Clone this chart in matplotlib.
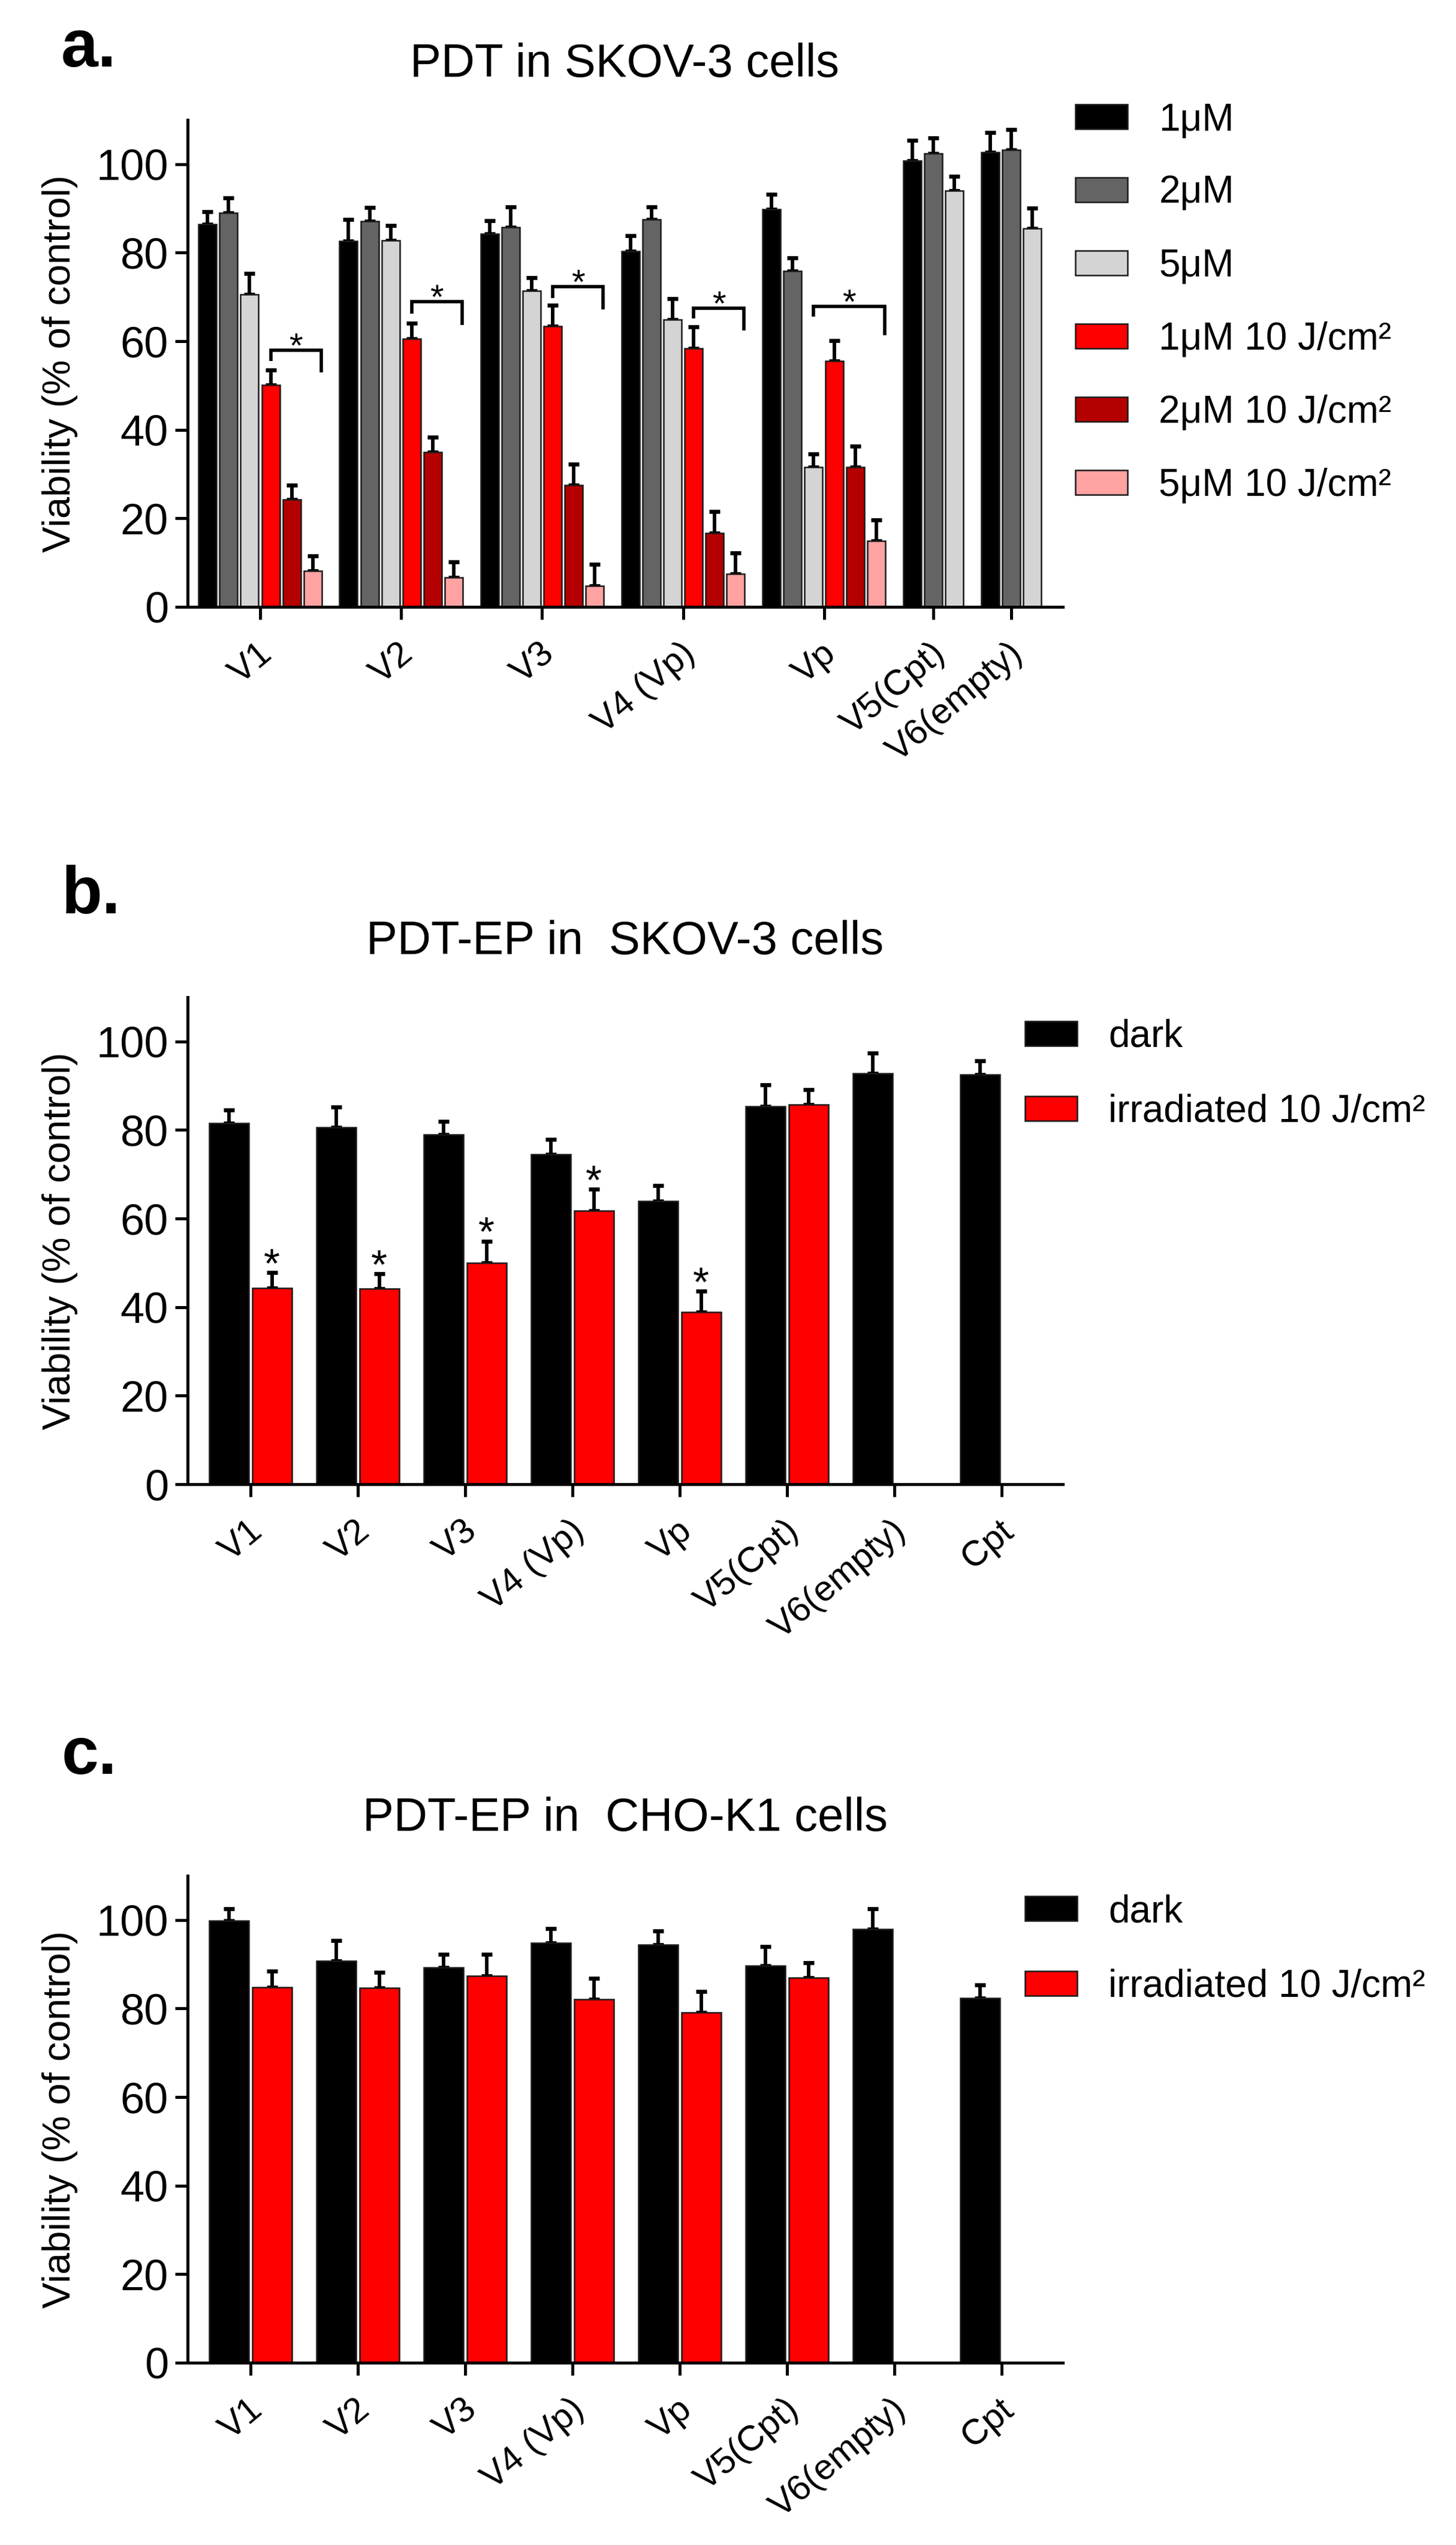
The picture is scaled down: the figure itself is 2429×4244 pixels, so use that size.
import numpy as np
import matplotlib
matplotlib.use('Agg')
import matplotlib.pyplot as plt
from matplotlib.patches import Patch
from matplotlib.transforms import ScaledTranslation

plt.rcParams['font.family'] = ['Liberation Sans', 'DejaVu Sans']

W, H = 2429, 4244

# ---------------- data ----------------
# panel a: PDT in SKOV-3
cats_a = ['V1', 'V2', 'V3', 'V4 (Vp)', 'Vp', 'V5(Cpt)', 'V6(empty)']
labels_a = ['1\u03bcM', '2\u03bcM', '5\u03bcM',
            '1\u03bcM 10 J/cm\u00b2', '2\u03bcM 10 J/cm\u00b2', '5\u03bcM 10 J/cm\u00b2']
um1 = [86.4, 82.7, 84.2, 80.4, 89.8, 100.8, 102.7]
um1_err = [2.9, 4.8, 3.1, 3.5, 3.4, 4.6, 4.4]
um2 = [89.0, 87.1, 85.7, 87.5, 75.9, 102.4, 103.2]
um2_err = [3.4, 3.1, 4.7, 2.8, 3.0, 3.5, 4.6]
um5 = [70.6, 82.8, 71.4, 64.9, 31.5, 94.0, 85.5]
um5_err = [4.7, 3.4, 3.0, 4.7, 3.1, 3.3, 4.6]
um1_irr = [50.1, 60.6, 63.4, 58.4, 55.5, np.nan, np.nan]
um1_irr_err = [3.4, 3.5, 4.8, 4.8, 4.7, np.nan, np.nan]
um2_irr = [24.2, 34.9, 27.5, 16.7, 31.5, np.nan, np.nan]
um2_irr_err = [3.3, 3.4, 4.8, 4.8, 4.8, np.nan, np.nan]
um5_irr = [8.1, 6.7, 4.8, 7.4, 14.9, np.nan, np.nan]
um5_irr_err = [3.4, 3.5, 4.8, 4.8, 4.8, np.nan, np.nan]

# significance brackets in panel a (group, first series, top, left end, right end)
sig_groups = [0, 1, 2, 3, 4]
sig_from = [3, 3, 3, 3, 2]
sig_top = [58.0, 68.9, 72.3, 67.5, 67.9]
sig_left = [55.6, 66.3, 69.8, 65.2, 65.6]
sig_right = [53.0, 63.7, 67.2, 62.5, 61.4]

# panel b: PDT-EP in SKOV-3
cats_bc = ['V1', 'V2', 'V3', 'V4 (Vp)', 'Vp', 'V5(Cpt)', 'V6(empty)', 'Cpt']
labels_bc = ['dark', 'irradiated 10 J/cm\u00b2']
dark_b = [81.5, 80.6, 79.0, 74.5, 64.0, 85.4, 92.8, 92.5]
dark_b_err = [3.0, 4.6, 3.0, 3.4, 3.4, 4.8, 4.6, 3.1]
irr_b = [44.3, 44.1, 50.0, 61.8, 38.9, 85.8, np.nan, np.nan]
irr_b_err = [3.5, 3.4, 4.9, 4.8, 4.7, 3.3, np.nan, np.nan]
star_b = [True, True, True, True, True, False, False, False]

# panel c: PDT-EP in CHO-K1
dark_c = [99.9, 90.8, 89.3, 94.8, 94.4, 89.7, 98.0, 82.3]
dark_c_err = [2.7, 4.6, 3.0, 3.3, 3.2, 4.3, 4.6, 3.0]
irr_c = [84.8, 84.6, 87.4, 82.1, 79.1, 87.0, np.nan, np.nan]
irr_c_err = [3.6, 3.6, 4.9, 4.7, 4.7, 3.4, np.nan, np.nan]

colors_a = ['#000000', '#646464', '#d4d4d4', '#ff0000', '#b40000', '#ffa2a2']
colors_bc = ['#000000', '#ff0000']
EDGE = '#1a1a1a'


def fx(px):
    return px / W


def fy(py):
    return 1 - py / H


def style_axes(ax, xticks, xlabels):
    for s in ['top', 'right']:
        ax.spines[s].set_visible(False)
    for s in ['left', 'bottom']:
        ax.spines[s].set_linewidth(3.6)
    ax.set_ylim(0, 110)
    ax.set_yticks([0, 20, 40, 60, 80, 100])
    ax.tick_params(axis='y', length=15, width=3.6, labelsize=52, pad=8)
    ax.tick_params(axis='x', length=15, width=3.6, labelsize=43, pad=21)
    ax.set_xticks(xticks)
    ax.set_xticklabels(xlabels, rotation=40, ha='right', rotation_mode='anchor')
    shift = ScaledTranslation(-5 / 100, 0, fig.dpi_scale_trans)
    for lab in ax.get_xticklabels():
        lab.set_transform(lab.get_transform() + shift)
    ax.set_ylabel('Viability (% of control)', fontsize=47)
    ax.yaxis.set_label_coords(-0.125, 0.5)


def draw_bars(ax, x, vals, errs, color, width):
    x = np.asarray(x, float)
    vals = np.asarray(vals, float)
    errs = np.asarray(errs, float)
    ok = ~np.isnan(vals)
    ax.bar(x[ok], vals[ok], width=width, color=color, edgecolor=EDGE,
           linewidth=1.8, zorder=2)
    ax.errorbar(x[ok], vals[ok], yerr=[np.zeros(ok.sum()), errs[ok]], fmt='none',
                ecolor='black', elinewidth=4.2, capsize=6.5, capthick=4.8, zorder=1)


def add_legend(ax, colors, labels, x_px, top_px, spacing):
    handles = [Patch(facecolor=c, edgecolor=EDGE, linewidth=1.8, label=l)
               for c, l in zip(colors, labels)]
    ax.legend(handles=handles, loc='upper left', bbox_to_anchor=(fx(x_px), fy(top_px)),
              bbox_transform=fig.transFigure, frameon=False, borderpad=0,
              borderaxespad=0, handlelength=1.36, handleheight=0.62,
              handletextpad=0.82, labelspacing=spacing, fontsize=46)


fig = plt.figure(figsize=(W / 100, H / 100), dpi=100)

ax_left, ax_right = 313, 1773
ax_w = ax_right - ax_left
ax_h = 812

# ---------------- panel a ----------------
ax = fig.add_axes([fx(ax_left), fy(1012), fx(ax_w), ax_h / H])
series_a = [(um1, um1_err), (um2, um2_err), (um5, um5_err),
            (um1_irr, um1_irr_err), (um2_irr, um2_irr_err), (um5_irr, um5_irr_err)]
nbars = [int(sum(~np.isnan(np.array([s[0][g] for s in series_a], float))))
         for g in range(len(cats_a))]
gap = 0.7
centers_a = [0.0]
for g in range(1, len(cats_a)):
    centers_a.append(centers_a[-1] + (nbars[g - 1] + nbars[g]) / 2 + gap)
centers_a = np.array(centers_a)


def xpos_a(s, g):
    return centers_a[g] + s - (nbars[g] - 1) / 2


for s, (vals, errs) in enumerate(series_a):
    xs = [xpos_a(s, g) for g in range(len(cats_a))]
    draw_bars(ax, xs, vals, errs, colors_a[s], 0.855)

for g, s0, top, le, re in zip(sig_groups, sig_from, sig_top, sig_left, sig_right):
    xl = xpos_a(s0, g)
    xr = xpos_a(5, g) + 0.4
    ax.plot([xl, xl, xr, xr], [le, top, top, re], color='black', lw=4,
            solid_joinstyle='miter', solid_capstyle='butt', zorder=3)
    ax.text((xl + xr) / 2, top - 1.6, '*', ha='center', va='baseline', fontsize=42)

ax.set_xlim((ax_left - 434) / 35.1, (ax_right - 434) / 35.1)
style_axes(ax, centers_a, cats_a)
add_legend(ax, colors_a, labels_a, 1794, 170, 0.97)
fig.text(fx(1042), fy(128), 'PDT in SKOV-3 cells', ha='center', va='baseline', fontsize=56)
fig.text(fx(102), fy(111), 'a.', ha='left', va='baseline', fontsize=80, fontweight='bold')


# ---------------- panels b and c ----------------
def panel_bc(y0, dark, dark_err, irr, irr_err, stars, title, title_y, letter, letter_y, leg_top):
    ax = fig.add_axes([fx(ax_left), fy(y0), fx(ax_w), ax_h / H])
    centers = np.arange(len(cats_bc)) * 2.5
    draw_bars(ax, centers - 0.5, dark, dark_err, colors_bc[0], 0.92)
    draw_bars(ax, centers + 0.5, irr, irr_err, colors_bc[1], 0.92)
    if stars is not None:
        for i, st in enumerate(stars):
            if st:
                ax.text(centers[i] + 0.5, irr[i] + irr_err[i] - 1.0, '*', ha='center',
                        va='baseline', fontsize=50)
    ax.set_xlim((ax_left - 418) / 71.6, (ax_right - 418) / 71.6)
    style_axes(ax, centers, cats_bc)
    add_legend(ax, colors_bc, labels_bc, 1710, leg_top, 1.02)
    fig.text(fx(1043), fy(title_y), title, ha='center', va='baseline', fontsize=56)
    fig.text(fx(103), fy(letter_y), letter, ha='left', va='baseline', fontsize=80,
             fontweight='bold')
    return ax


panel_bc(2475, dark_b, dark_b_err, irr_b, irr_b_err, star_b,
         'PDT-EP in  SKOV-3 cells', 1591, 'b.', 1523, 1699)
panel_bc(3940, dark_c, dark_c_err, irr_c, irr_c_err, None,
         'PDT-EP in  CHO-K1 cells', 3053, 'c.', 2958, 3158)

fig.savefig('out.png', dpi=100)
